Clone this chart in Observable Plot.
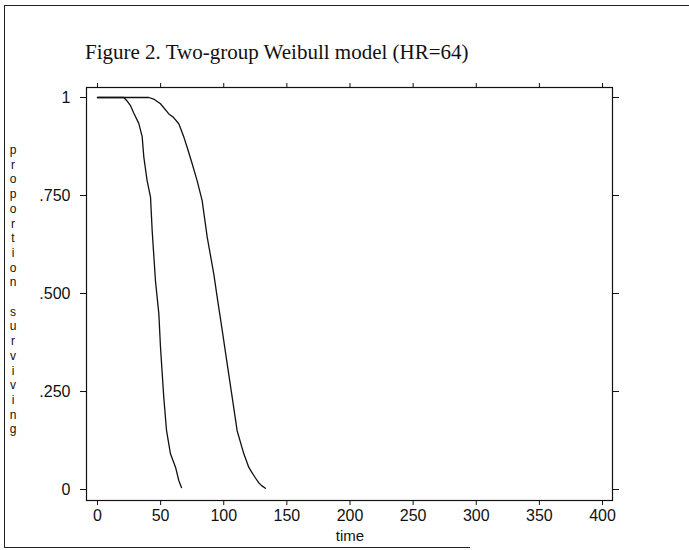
<!DOCTYPE html>
<html>
<head>
<meta charset="utf-8">
<script src="https://cdn.jsdelivr.net/npm/d3@7"></script>
<script src="https://cdn.jsdelivr.net/npm/@observablehq/plot@0.6"></script>
<style>
  html, body { margin: 0; padding: 0; background: #fff; }
  #wrap { position: relative; width: 689px; height: 550px; overflow: hidden; background: #fff; }
  #wrap svg { position: absolute; left: 0; top: 0; }
  .bl { position: absolute; background: #222; }
  #title { position: absolute; left: 85px; top: 40px; font-family: "Liberation Serif", "Times New Roman", serif; font-size: 21px; color: #111; white-space: nowrap; }
  #ylab { position: absolute; left: 7px; top: 143px; width: 12px; font-family: "Liberation Sans Narrow", "Liberation Sans", sans-serif; font-size: 12px; line-height: 14.7px; color: #111; text-align: center; }
</style>
</head>
<body>
<div id="wrap">
  <div class="bl" style="left:4px; top:5px; width:685px; height:1px;"></div>
  <div class="bl" style="left:4px; top:5px; width:1px; height:543px;"></div>
  <div class="bl" style="left:4px; top:547px; width:466px; height:1px;"></div>
  <div id="title"></div>
  <div id="ylab"></div>
</div>
<script>
// Group 1 (earlier failure)
const group1Time = [0, 20.8, 23.5, 26, 28.8, 32.7, 35.4, 36.7, 39.3, 42, 43.3, 45.9, 48.6, 49.9, 52.5, 54.7, 57.8, 61.8, 64.4, 66.5];
const group1Surv = [1, 1, 0.991, 0.98, 0.96, 0.934, 0.90, 0.848, 0.788, 0.746, 0.661, 0.533, 0.448, 0.363, 0.235, 0.15, 0.091, 0.057, 0.023, 0.005];
// Group 2 (later failure)
const group2Time = [0, 40.7, 45, 49.9, 56.5, 60, 64.4, 68.4, 71, 75, 78.9, 82.9, 86.9, 92.1, 94.8, 98.8, 102.7, 106.7, 110.6, 115.9, 119.8, 122, 125, 127.5, 130, 133];
const group2Surv = [1, 1, 0.995, 0.984, 0.958, 0.95, 0.933, 0.899, 0.873, 0.831, 0.788, 0.737, 0.644, 0.55, 0.491, 0.406, 0.321, 0.235, 0.15, 0.091, 0.057, 0.045, 0.03, 0.018, 0.01, 0.003];

const xTicks = [0, 50, 100, 150, 200, 250, 300, 350, 400];
const yTicks = [0, 0.25, 0.5, 0.75, 1];
const yTickLabels = ["0", ".250", ".500", ".750", "1"];
const titleText = "Figure 2. Two-group Weibull model (HR=64)";
const yLabelText = "proportion surviving";
const xLabelText = "time";

document.getElementById("title").textContent = titleText;
document.getElementById("ylab").innerHTML = yLabelText.split("").map(c => c === " " ? "&nbsp;" : c).join("<br>");

const g1 = group1Time.map((t, i) => ({time: t, surv: group1Surv[i]}));
const g2 = group2Time.map((t, i) => ({time: t, surv: group2Surv[i]}));

const chart = Plot.plot({
  width: 689,
  height: 550,
  marginLeft: 86,
  marginRight: 77,
  marginTop: 87,
  marginBottom: 50,
  style: {fontFamily: "'Liberation Sans Narrow', 'Liberation Sans', sans-serif", fontSize: "16px", color: "#111", background: "transparent"},
  x: {domain: [-8.7, 407.9]},
  y: {domain: [-0.028, 1.0255]},
  marks: [
    Plot.frame({stroke: "#111", strokeWidth: 1.2}),
    Plot.axisX({anchor: "bottom", ticks: xTicks, tickSize: 5, tickPadding: 4, tickFormat: d => String(d), label: null, fontSize: 16}),
    Plot.axisX({anchor: "top", ticks: xTicks, tickSize: 5, tickFormat: () => "", label: null}),
    Plot.axisY({anchor: "left", ticks: yTicks, tickSize: 6, tickPadding: 10, tickFormat: (d) => yTickLabels[yTicks.indexOf(d)], label: null, fontSize: 16}),
    Plot.axisY({anchor: "right", ticks: yTicks, tickSize: 6, tickFormat: () => "", label: null}),
    Plot.text([xLabelText], {x: 200, frameAnchor: "bottom", dy: 40, text: d => d, fontSize: 15}),
    Plot.line(g1, {x: "time", y: "surv", stroke: "#111", strokeWidth: 1.3}),
    Plot.line(g2, {x: "time", y: "surv", stroke: "#111", strokeWidth: 1.3})
  ]
});
document.getElementById("wrap").insertBefore(chart, document.getElementById("wrap").firstChild);
</script>
</body>
</html>
